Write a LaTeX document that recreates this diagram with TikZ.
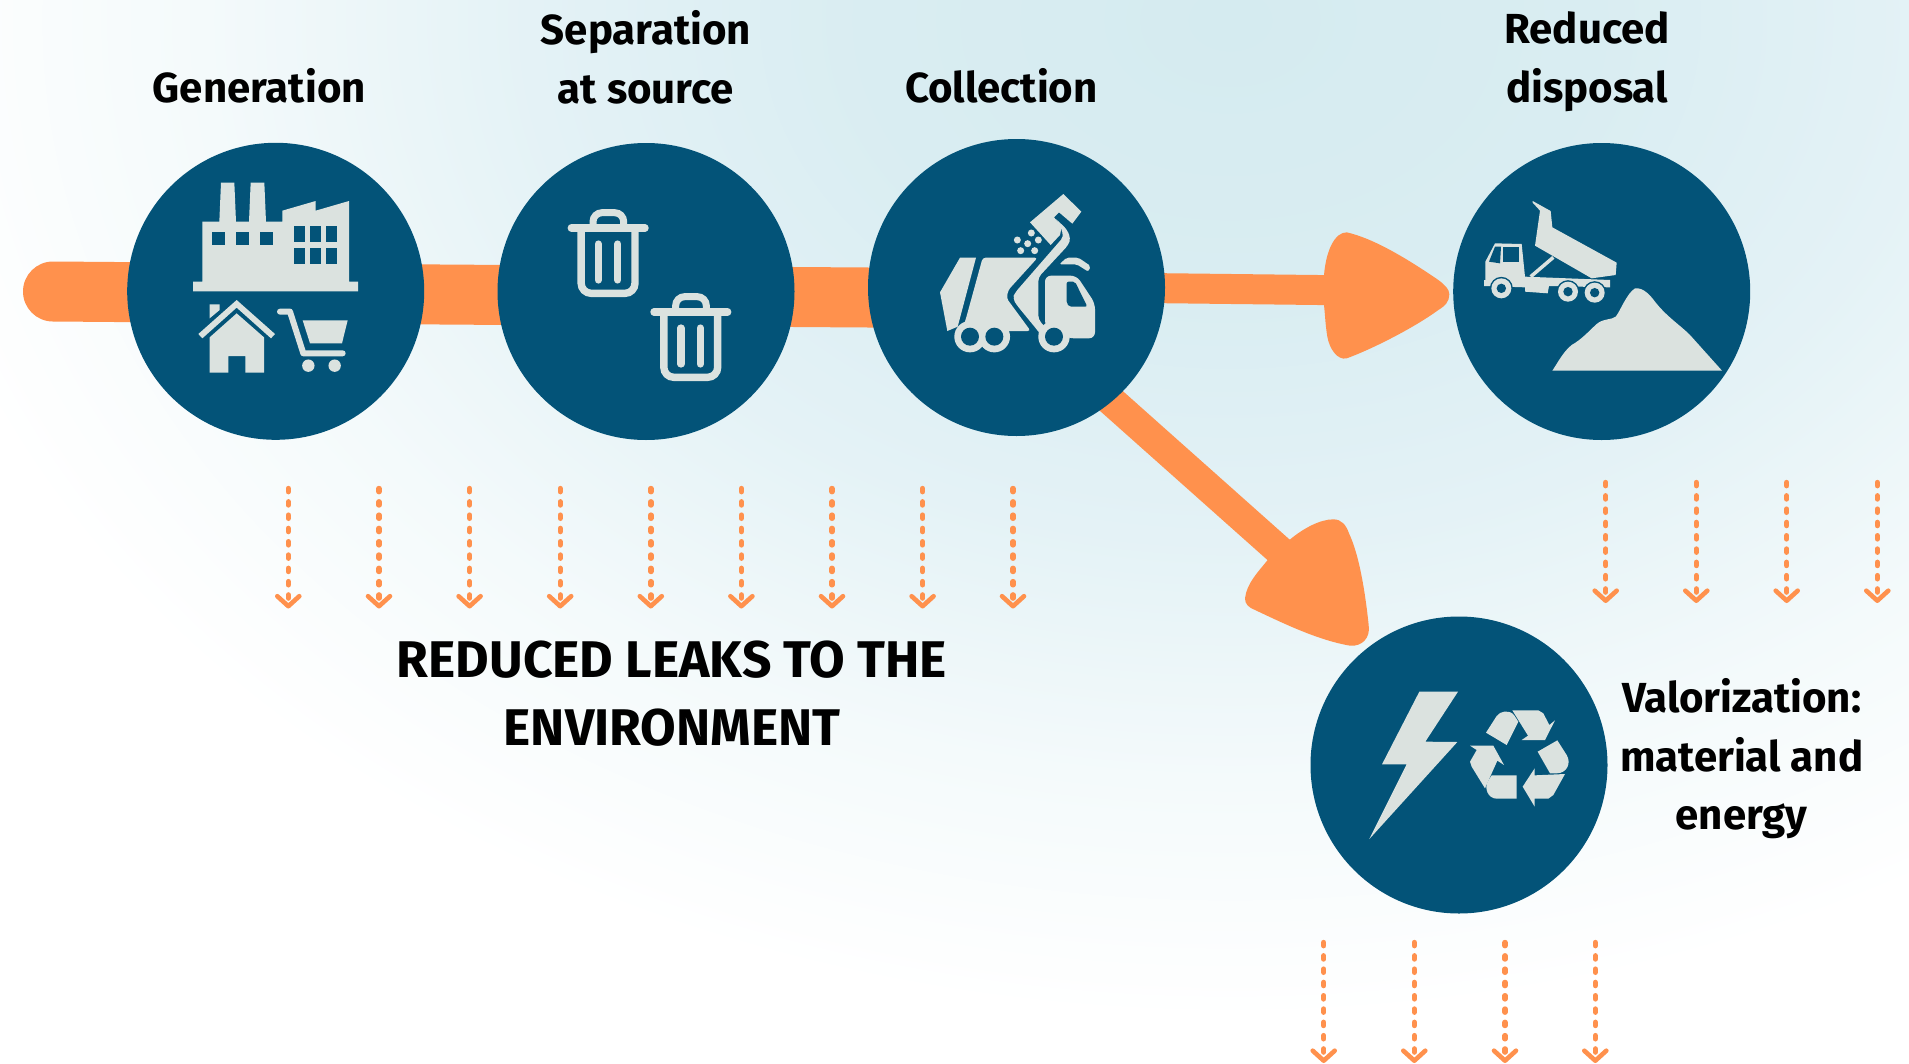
\documentclass[tikz,border=0pt]{standalone}
\usepackage{fontspec}
\setmainfont{Fira Sans}[BoldFont={Fira Sans Bold}]
\usetikzlibrary{arrows.meta,calc}
\definecolor{hubblue}{HTML}{035378}
\definecolor{iconc}{HTML}{DBE2DF}
\definecolor{flow}{HTML}{FF914D}
\definecolor{bgA}{HTML}{D5EBF0}
\definecolor{bgB}{HTML}{E4F2F6}
\definecolor{bgC}{HTML}{F4FAFB}
\pgfdeclareradialshading{blob}{\pgfpoint{0bp}{0bp}}{color(0bp)=(bgA);color(7bp)=(bgA!70!bgB);color(13bp)=(bgB);color(19bp)=(bgC);color(25bp)=(white);color(50bp)=(white)}
\tikzset{
  zoomed/.style 2 args={shift={(#1,#2)},x=0.33333pt,y=-0.33333pt},
  hub/.style={circle,fill=hubblue,draw=none,minimum size=297pt,inner sep=0pt},
  thickbar/.style={draw=flow,line width=60pt},
  thinbar/.style={draw=flow,line width=30pt},
  headfill/.style={fill=flow,draw=none},
  ic/.style={fill=iconc,draw=none},
  icd/.style={fill=hubblue,draw=none},
  leak/.style={draw=flow,line width=5.4pt,line cap=round,dash pattern=on 3.2pt off 10.1pt,
     -{Straight Barb[length=10pt,width=22pt,line width=4.6pt,line cap=round,round]}},
  lab/.style={font=\fontsize{42}{58.6}\selectfont\bfseries,align=center,text=black,inner sep=0pt},
  bigLab/.style={font=\fontsize{51.6}{68}\selectfont\bfseries,align=center,text=black,inner sep=0pt},
  trashcan/.pic={
    \draw[iconc,line width=7.4pt,rounded corners=10pt] (273.5,294) -- (273.5,490) -- (435,490) -- (435,294);
    \draw[iconc,line width=7pt,rounded corners=9pt] (309,290) -- (309,248) -- (401,248) -- (401,290);
    \draw[iconc,line width=7.4pt,line cap=round] (244,294) -- (465,294);
    \draw[iconc,line width=7.2pt,line cap=round] (325,342) -- (325,450);
    \draw[iconc,line width=7.2pt,line cap=round] (383,342) -- (383,450);
  }
}
\begin{document}
\begin{tikzpicture}[x=1pt,y=-1pt]
\useasboundingbox (0,0) rectangle (1909,1063);
\begin{scope}
\clip (0,0) rectangle (1909,1063);
\fill[white] (0,0) rectangle (1909,1063);
\path[shading=blob] (1230,20) ellipse [x radius=1350pt, y radius=1000pt];

\path (275.7,291.3) coordinate (gen0) (646,291.5) coordinate (sep0) (1016.5,287.5) coordinate (col0)
      (1601.7,291.5) coordinate (dis0) (1459,765) coordinate (val0);
\coordinate (barstart) at (53,291.5);
\coordinate (tipA) at (1335,290.2);
\coordinate (tipB) at (1290,560);

\draw[thickbar,line cap=round] (barstart) -- ($(gen0)+(0,2)$);
\draw[thickbar] ($(gen0)+(0,2)$) -- ($(sep0)+(0,4.5)$);
\draw[thickbar] ($(sep0)+(0,4.5)$) -- ($(col0)+(0,11)$);
\draw[thinbar] ($(col0)+(0,-1)$) -- (tipA);
\draw[thinbar] ($(col0)+(0,29)$) -- (tipB);

% arrow heads
\begin{scope}[zoomed={1200}{200}]
\path[headfill] (372,226) .. controls (378,150) and (405,97) .. (440,97)
  .. controls (520,115) and (620,175) .. (715,240)
  .. controls (735,255) and (748,268) .. (748,283)
  .. controls (748,305) and (735,318) .. (715,330)
  .. controls (640,385) and (510,450) .. (440,475)
  .. controls (412,482) and (388,445) .. (382,410)
  .. controls (376,375) and (375,340) .. (372,316) -- cycle;
\path[headfill] (268,1020) .. controls (310,985) and (360,958) .. (400,958)
  .. controls (425,958) and (438,975) .. (447,1000)
  .. controls (480,1070) and (497,1190) .. (506,1275)
  .. controls (512,1315) and (485,1340) .. (450,1337)
  .. controls (350,1320) and (240,1265) .. (165,1230)
  .. controls (145,1222) and (135,1212) .. (135,1195)
  .. controls (140,1150) and (175,1115) .. (203,1080) -- cycle;
\end{scope}

% hubs
\node[hub] (gen) at (gen0) {};
\node[hub] (sep) at (sep0) {};
\node[hub] (col) at (col0) {};
\node[hub] (dis) at (dis0) {};
\node[hub] (val) at (val0) {};

% factory, house, cart
\begin{scope}[zoomed={110}{130}]
\fill[ic] (277,275) -- (328,275) -- (333,158) -- (373,158) -- (378,275) -- (417,275) -- (422,158) -- (463,158) -- (468,275) -- (517,275) -- (517,242) -- (617,213) -- (617,242) -- (717,213) -- (717,455) -- (744,455) -- (744,484) -- (249,484) -- (249,455) -- (277,455) -- cycle;
\foreach \wx in {307,378,449} \fill[icd] (\wx,306) rectangle ++(39,39);
\foreach \wx in {553,601,648} \foreach \wy in {287,353} \fill[icd] (\wx,\wy) rectangle ++(33,50);
\fill[ic] (265,612) -- (380,510) -- (495,612) -- (483,625) -- (380,533) -- (277,625) -- cycle;
\fill[ic] (299,523) -- (329,523) -- (329,540) -- (299,565) -- cycle;
\fill[ic] (299,622) -- (380,550) -- (462,622) -- (462,728) -- (406,728) -- (406,678) -- (355,678) -- (355,728) -- (299,728) -- cycle;
\draw[iconc,line width=6pt,line cap=round,line join=round] (510,545) -- (540,545) -- (580,670) -- (698,670);
\fill[ic] (578,571) -- (713,571) -- (696,640) -- (600,640) -- cycle;
\fill[ic] (595,707) circle (6.2pt);
\fill[ic] (674,707) circle (6.2pt);
\end{scope}

% two bins
\begin{scope}[zoomed={490}{130}]
\pic at (0,0) {trashcan};
\pic at (248,252) {trashcan};
\end{scope}

% collection truck
\begin{scope}[zoomed={860}{130}]
\fill[ic] (300,383) -- (348,383) -- (293,590) -- (262,603) -- (240,487) -- cycle;
\fill[ic,rounded corners=3pt] (368,383) -- (533,383) -- (445,480) -- (440,505) -- (512,603) -- (420,603) -- (310,590) -- (318,565) -- cycle;
\fill[ic] (510,277) -- (610,192) -- (664,245) -- (637,281) -- (597,247) -- (582,262) -- (605,290) -- (600,315) -- (572,345) -- cycle;
\fill[ic,rounded corners=4pt] (582,262) -- (620,297) -- (632,325) -- (625,345) -- (535,442) -- (535,568) -- (560,597) -- (540,612) -- (530,598) -- (470,525) -- (458,505) -- (465,488) -- (611,320) -- (600,285) -- cycle;
\foreach \dx/\dy in {472/330,514/309,535/330,503/341,482/362,524/362} \fill[ic] (\dx,\dy) circle (3.5pt);
\fill[ic,rounded corners=6pt] (555,590) -- (555,437) -- (650,437) -- (705,520) -- (705,625) -- (625,625) -- cycle;
\fill[icd,rounded corners=2pt] (620,455) -- (645,455) -- (682,530) -- (628,530) -- (620,520) -- cycle;
\fill[ic,rounded corners=2pt] (598,403) -- (620,383) -- (655,383) -- (692,408) -- (685,425) -- (650,403) -- cycle;
\foreach \wx in {330,403,582} \fill[ic] (\wx,620) circle (15.7pt);
\foreach \wx in {330,403,582} \fill[icd] (\wx,620) circle (9pt);
\end{scope}

% dump truck and pile
\begin{scope}[zoomed={1440}{130}]
\fill[ic] (278,213) -- (332,243) -- (337,292) -- (530,398) -- (527,435) -- (455,445) -- (285,347) -- (300,242) -- (278,218) -- cycle;
\draw[iconc,line width=3.5pt] (272,440) -- (340,382);
\fill[ic] (165,340) -- (245,342) -- (255,440) -- (510,450) -- (510,472) -- (327,468) -- (323,490) -- (255,485) -- (255,472) -- (132,468) -- (132,450) -- (136,450) -- (136,395) -- cycle;
\fill[icd] (165,350) -- (183,350) -- (180,400) -- (147,395) -- cycle;
\fill[icd] (190,352) -- (238,352) -- (238,395) -- (190,395) -- cycle;
\foreach \wx/\wy in {184/475,384/485,464/488} {
  \fill[icd] (\wx,\wy) circle (11.5pt);
  \fill[ic] (\wx,\wy) circle (10pt);
  \fill[icd] (\wx,\wy) circle (4.7pt);
}
\fill[ic] (337,722) .. controls (355,695) and (370,665) .. (395,645) .. controls (425,628) and (445,605) .. (470,582) .. controls (490,565) and (515,570) .. (527,560) .. controls (540,545) and (560,490) .. (585,475) .. controls (610,472) and (630,495) .. (645,515) .. controls (680,560) and (720,585) .. (750,615) -- (846,722) -- cycle;
\end{scope}

% bolt and recycling sign
\begin{scope}[zoomed={1300}{610}]
\fill[ic] (358,245) -- (474,245) -- (376,395) -- (472,396) -- (208,687) -- (320,463) -- (246,463) -- cycle;
\fill[ic] (558,368) -- (590,318) .. controls (600,303) and (628,298) .. (642,315) -- (655,335) -- (620,405) -- cycle;
\fill[ic] (637,301) -- (715,301) -- (730,310) -- (748,345) -- (765,331) -- (735,390) -- (665,390) -- (684,377) -- cycle;
\fill[ic] (713,425) -- (772,391) -- (800,435) .. controls (815,460) and (800,490) .. (770,490) -- (750,490) -- cycle;
\fill[ic] (795,492) -- (760,555) -- (745,566) -- (704,566) -- (704,590) -- (668,530) -- (704,475) -- (704,496) -- cycle;
\fill[ic] (650,496) -- (650,566) -- (590,566) .. controls (565,566) and (550,535) .. (565,512) -- (575,496) -- cycle;
\fill[ic] (555,535) -- (515,470) -- (510,455) -- (530,420) -- (510,407) -- (580,407) -- (612,465) -- (592,452) -- cycle;
\end{scope}

% leak arrows
\foreach \ax [count=\i] in {288.3,379,469.6,560.2,650.8,741.4,832,922.6,1013} {
  \coordinate (ta\i) at (\ax,488.5);
  \coordinate (tb\i) at (\ax,608.5);
  \draw[leak] (ta\i) -- (tb\i);
}
\foreach \ax [count=\i] in {1605.7,1696.3,1786.7,1877.3} {
  \coordinate (ra\i) at (\ax,482.5);
  \coordinate (rb\i) at (\ax,603);
  \draw[leak] (ra\i) -- (rb\i);
}
\foreach \ax [count=\i] in {1323.7,1414.3,1505,1595.3} {
  \coordinate (ba\i) at (\ax,942.5);
  \coordinate (bb\i) at (\ax,1063);
  \draw[leak] (ba\i) -- (bb\i);
}

% labels
\node[lab] (tgen) at (259.3,86) {Generation};
\node[lab] (tsep) at (646,57.5) {Separation\\at source};
\node[lab] (tcol) at (1001.4,86) {Collection};
\node[lab] (tdis) at (1587,62) {Reduced\\disposal};
\node[lab] (tval) at (1741.7,759) {Valorization:\\material and\\energy};
\node[bigLab] (tleak) at (672,694) {REDUCED LEAKS TO THE\\ENVIRONMENT};
\end{scope}
\end{tikzpicture}
\end{document}
